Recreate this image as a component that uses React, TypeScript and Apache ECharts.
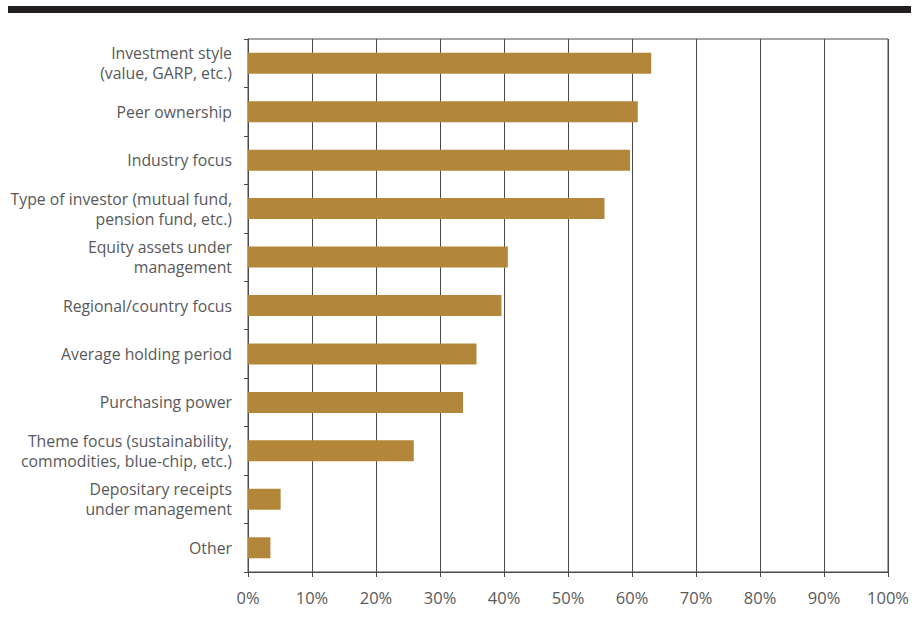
import React, { useEffect, useRef } from "react";
import * as echarts from "echarts";

const categories: string[] = [
  "Investment style\n(value, GARP, etc.)",
  "Peer ownership",
  "Industry focus",
  "Type of investor (mutual fund,\npension fund, etc.)",
  "Equity assets under\nmanagement",
  "Regional/country focus",
  "Average holding period",
  "Purchasing power",
  "Theme focus (sustainability,\ncommodities, blue-chip, etc.)",
  "Depositary receipts\nunder management",
  "Other",
];

const values: number[] = [63.0, 60.9, 59.7, 55.7, 40.6, 39.6, 35.7, 33.6, 25.9, 5.1, 3.5];

const xTicks: number[] = [0, 10, 20, 30, 40, 50, 60, 70, 80, 90, 100];

const FONT = "'Open Sans', Lato, sans-serif";
const TEXT = "#58595b";
const LINE = "#4a4a4a";
const BAR = "#B3873A";

export default function App() {
  const ref = useRef<HTMLDivElement>(null);
  useEffect(() => {
    if (!ref.current) return;
    const chart = echarts.init(ref.current, null, { renderer: "svg" });
    chart.setOption({
      animation: false,
      backgroundColor: "#ffffff",
      graphic: [
        {
          type: "rect",
          shape: { x: 8, y: 6, width: 903, height: 7 },
          style: { fill: "#231f20" },
          silent: true,
        },
      ],
      grid: {
        left: 248,
        right: 22,
        top: 39,
        bottom: 65,
        show: true,
        borderColor: LINE,
        borderWidth: 1,
        backgroundColor: "transparent",
        containLabel: false,
      },
      xAxis: {
        type: "value",
        min: xTicks[0],
        max: xTicks[xTicks.length - 1],
        interval: 10,
        axisLine: { show: true, lineStyle: { color: LINE, width: 1 } },
        axisTick: { show: true, length: 5, lineStyle: { color: LINE, width: 1 } },
        splitLine: { show: true, lineStyle: { color: LINE, width: 1 } },
        axisLabel: {
          formatter: (v: number) => `${v}%`,
          color: TEXT,
          fontFamily: FONT,
          fontSize: 16.5,
          margin: 17,
        },
      },
      yAxis: {
        type: "category",
        data: categories,
        inverse: true,
        axisLine: { show: true, lineStyle: { color: LINE, width: 1 } },
        axisTick: { show: true, length: 4, lineStyle: { color: LINE, width: 1 } },
        splitLine: { show: false },
        axisLabel: {
          color: TEXT,
          fontFamily: FONT,
          fontSize: 15.8,
          lineHeight: 20,
          margin: 16,
          align: "right",
        },
      },
      series: [
        {
          type: "bar",
          data: values,
          barWidth: 21,
          itemStyle: { color: BAR },
          silent: true,
        },
      ],
    });
    return () => chart.dispose();
  }, []);
  return (
    <div
      ref={ref}
      style={{ position: "fixed", left: 0, top: 0, width: 912, height: 637, background: "#fff" }}
    />
  );
}
